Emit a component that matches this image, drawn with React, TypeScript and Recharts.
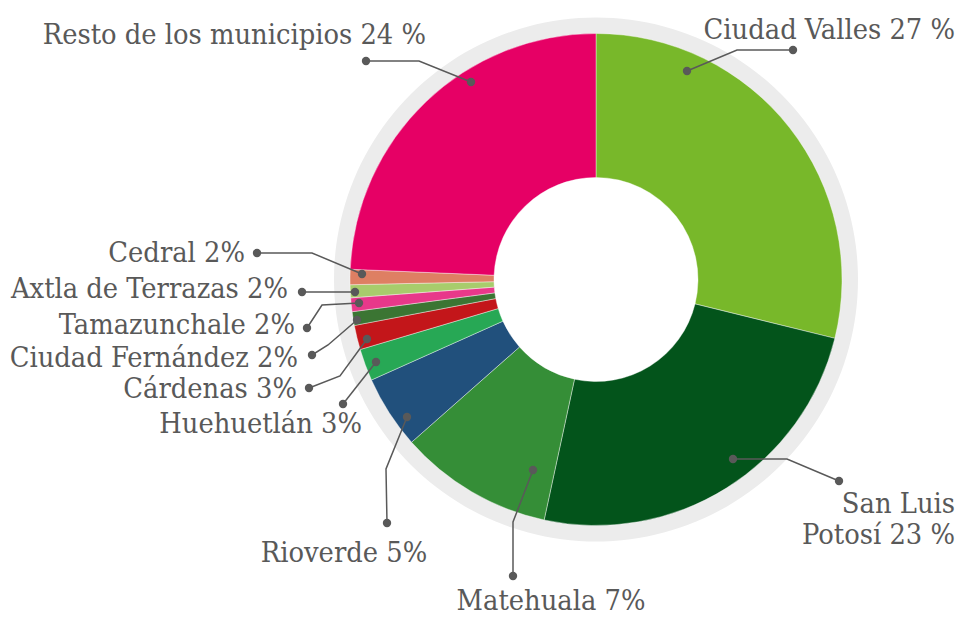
import React from "react"
import { PieChart, Pie, Cell } from "recharts"

// municipios, en el orden del gráfico (sentido horario desde arriba)
const municipios = [
  "Ciudad Valles",
  "San Luis Potosí",
  "Matehuala",
  "Rioverde",
  "Huehuetlán",
  "Cárdenas",
  "Ciudad Fernández",
  "Tamazunchale",
  "Axtla de Terrazas",
  "Cedral",
  "Resto de los municipios",
]

// tamaño de cada sector
const valores = [28.8, 24.5, 10.1, 4.8, 2.1, 1.6, 0.9, 0.9, 0.85, 1.0, 24.3]

// texto de cada etiqueta (una línea por elemento)
const etiquetas = [
  ["Ciudad Valles 27 %"],
  ["San Luis", "Potosí 23 %"],
  ["Matehuala 7%"],
  ["Rioverde 5%"],
  ["Huehuetlán 3%"],
  ["Cárdenas 3%"],
  ["Ciudad Fernández 2%"],
  ["Tamazunchale 2%"],
  ["Axtla de Terrazas 2%"],
  ["Cedral 2%"],
  ["Resto de los municipios 24 %"],
]

const colores = [
  "#78b82a",
  "#03541b",
  "#358e37",
  "#21507c",
  "#27a855",
  "#c3161a",
  "#3b7533",
  "#e8388a",
  "#a8cc6c",
  "#de7f63",
  "#e60065",
]

const data = municipios.map((name, i) => ({ name, value: valores[i] }))

const CX = 596
const CY = 279.5
const TEXTO = "#595959"
const FUENTE = "'DejaVu Serif Condensed', 'DejaVu Serif', serif"

// posición de las líneas guía y del texto (coordenadas de la página)
type Guia = {
  line: [number, number][]
  tx: number
  ty: number
  anchor: "start" | "middle" | "end"
}

const guias: Guia[] = [
  { line: [[687, 71], [737, 50], [793, 50]], tx: 955, ty: 39, anchor: "end" },
  { line: [[733, 459], [787, 459], [839, 481]], tx: 955, ty: 513, anchor: "end" },
  { line: [[533, 470], [513, 522], [513, 576]], tx: 551, ty: 610, anchor: "middle" },
  { line: [[407, 417], [386, 469], [387, 523]], tx: 344, ty: 562, anchor: "middle" },
  { line: [[376, 362], [343, 404]], tx: 362, ty: 433, anchor: "end" },
  { line: [[367, 339], [340, 376], [309, 388]], tx: 297, ty: 398, anchor: "end" },
  { line: [[357, 320], [328, 345], [312, 355]], tx: 298, ty: 367, anchor: "end" },
  { line: [[359, 303], [322, 305], [307, 328]], tx: 295, ty: 334, anchor: "end" },
  { line: [[355, 292], [302, 292]], tx: 288, ty: 298, anchor: "end" },
  { line: [[362, 274], [312, 253], [257, 253]], tx: 245, ty: 262, anchor: "end" },
  { line: [[471, 82], [419, 61], [366, 61]], tx: 426, ty: 44, anchor: "end" },
]

const renderLabel = (props: any) => {
  const { index, cx, cy } = props
  const g = guias[index]
  if (!g) return null
  const ox = cx - CX
  const oy = cy - CY
  const pts = g.line.map(([x, y]) => `${x + ox},${y + oy}`).join(" ")
  const first = g.line[0]
  const last = g.line[g.line.length - 1]
  return (
    <g key={`label-${index}`}>
      <polyline points={pts} fill="none" stroke={TEXTO} strokeWidth={1.5} />
      <circle cx={first[0] + ox} cy={first[1] + oy} r={4.2} fill={TEXTO} />
      <circle cx={last[0] + ox} cy={last[1] + oy} r={4.2} fill={TEXTO} />
      <text
        x={g.tx + ox}
        y={g.ty + oy}
        textAnchor={g.anchor}
        fill={TEXTO}
        fontFamily={FUENTE}
        fontSize={28.7}
      >
        {etiquetas[index].map((t, k) => (
          <tspan key={k} x={g.tx + ox} dy={k === 0 ? 0 : 30.6}>
            {t}
          </tspan>
        ))}
      </text>
    </g>
  )
}

export default function App() {
  return (
    <div style={{ position: "absolute", left: 0, top: 0, width: 960, height: 618, background: "#fff" }}>
      <PieChart width={960} height={618} margin={{ top: 0, right: 0, bottom: 0, left: 0 }}>
        <Pie
          data={[{ name: "fondo", value: 1 }]}
          dataKey="value"
          cx={CX}
          cy={CY}
          innerRadius={200}
          outerRadius={262}
          startAngle={90}
          endAngle={-270}
          fill="#ececec"
          stroke="none"
          isAnimationActive={false}
        />
        <Pie
          data={data}
          dataKey="value"
          cx={CX}
          cy={CY}
          innerRadius={102}
          outerRadius={246}
          startAngle={90}
          endAngle={-270}
          stroke="#ffffff"
          strokeWidth={0.4}
          labelLine={false}
          label={renderLabel}
          isAnimationActive={false}
        >
          {data.map((entry, index) => (
            <Cell key={`cell-${index}`} fill={colores[index % colores.length]} />
          ))}
        </Pie>
      </PieChart>
    </div>
  )
}
